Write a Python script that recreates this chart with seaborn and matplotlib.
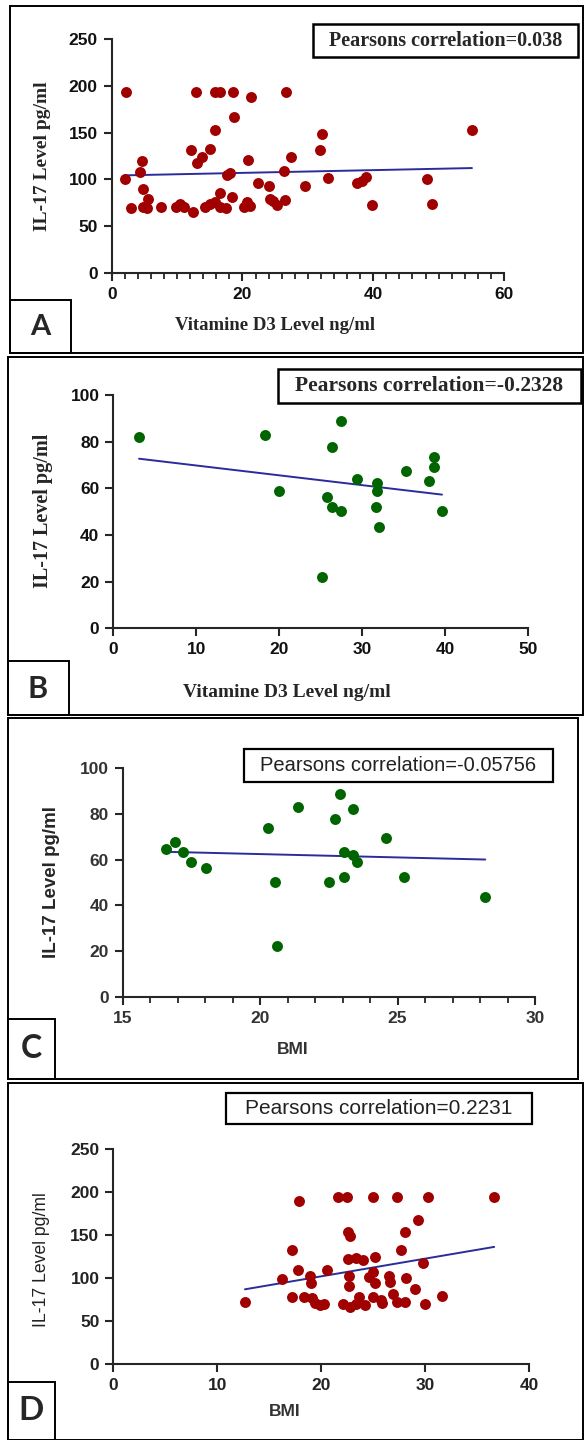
import matplotlib
matplotlib.use("Agg")
import matplotlib.pyplot as plt
from matplotlib.patches import Rectangle
from matplotlib.ticker import MultipleLocator
import seaborn as sns
import pandas as pd

W, H = 587, 1440

# panel A: vitamin D3 vs IL-17 (red group)
vitd_a = [2.2, 2.0, 2.9, 4.6, 4.4, 4.8, 5.6, 5.4, 4.8, 7.6,
          9.9, 10.5, 11.0, 12.4, 12.1, 12.9, 13.0, 13.8, 14.3, 15.0,
          15.0, 15.8, 15.8, 16.6, 15.8, 16.6, 16.6, 17.5, 17.6, 18.1,
          18.4, 18.5, 18.7, 20.2, 20.7, 21.2, 20.9, 21.3, 22.4, 24.0,
          24.2, 24.7, 25.3, 26.5, 26.4, 26.6, 27.4, 29.6, 31.9, 32.1,
          33.1, 37.5, 38.3, 38.9, 39.8, 48.2, 49.0, 55.1]
il17_a = [193.5, 100, 69, 120, 108, 90, 79, 69, 70, 70,
          70, 74, 70, 65, 131, 193.5, 118, 124, 70, 74,
          132, 153, 193.5, 193.5, 76, 85, 70, 69, 105, 107,
          81, 193.5, 167, 70, 76, 71, 121, 188.5, 96, 93,
          79, 77, 72, 78, 109, 193.5, 124, 93, 131, 148.5,
          101, 96, 98.5, 102, 72, 100, 74, 153]

# panel B: vitamin D3 vs IL-17 (green group)
vitd_b = [3.1, 18.3, 20.0, 27.4, 26.4, 25.8, 26.4, 27.4, 25.2, 29.4,
          31.8, 31.8, 31.7, 32.0, 35.3, 38.0, 38.6, 38.6, 39.6]
il17_b = [82.1, 83.0, 58.9, 88.7, 77.6, 56.1, 52.1, 50.3, 22.0, 64.0,
          62.1, 58.9, 52.1, 43.6, 67.6, 63.1, 73.6, 69.3, 50.3]

# panel C: BMI vs IL-17 (green group)
bmi_c = [16.58, 16.92, 17.21, 17.48, 18.02, 20.30, 20.54, 20.62, 21.38, 22.52,
         22.72, 22.91, 23.06, 23.06, 23.38, 23.38, 23.54, 24.59, 25.22, 28.19]
il17_c = [64.5, 67.6, 63.2, 58.8, 56.2, 73.7, 50.2, 22.0, 82.9, 50.2,
          77.7, 88.8, 63.5, 52.3, 82.0, 62.0, 58.8, 69.3, 52.3, 43.6]

# panel D: BMI vs IL-17 (red group)
bmi_d = [12.67, 16.2, 17.16, 17.16, 17.74, 17.9, 18.35, 18.9, 19.08, 19.0,
         19.4, 19.9, 20.3, 20.6, 21.65, 22.45, 22.1, 22.6, 22.8, 22.6,
         22.7, 22.7, 22.8, 23.4, 24.05, 23.6, 23.4, 24.2, 24.6, 25.0,
         25.2, 25.0, 25.2, 25.0, 25.9, 25.8, 26.5, 26.6, 27.3, 27.7,
         26.9, 27.3, 28.1, 28.1, 28.2, 29.0, 29.35, 29.8, 30.0, 30.3,
         31.65, 36.65]
il17_d = [71.6, 98.8, 132.6, 77.4, 109.3, 189.4, 77.4, 102.3, 76.2, 93.7,
          70.4, 68.4, 69.6, 109.3, 194.8, 194.8, 69.6, 154, 149.3, 121.7,
          102.3, 90.6, 66.5, 122.9, 121, 77.4, 69.6, 68.4, 101.5, 194.8,
          124, 107.3, 93.7, 78.1, 70.4, 74.3, 102.3, 95.6, 194.8, 132.6,
          81.3, 72.3, 72.3, 154, 100.3, 87.1, 167.6, 117.8, 70, 194.8,
          79.3, 194.8]

corr_labels = ["Pearsons correlation=0.038", "Pearsons correlation=-0.2328",
               "Pearsons correlation=-0.05756", "Pearsons correlation=0.2231"]

RED = "#a00000"
GREEN = "#006400"
LINE = "#2b2b9c"
SERIF = ["Liberation Serif", "DejaVu Serif"]
SANS = ["Liberation Sans", "DejaVu Sans"]
LETTER = ["Lato", "DejaVu Sans"]

sns.set_style("ticks")
plt.rcParams['font.family'] = SANS

fig = plt.figure(figsize=(W / 100, H / 100), dpi=100)


def rect(x0, y0, x1, y1):
    return [x0 / W, 1 - y1 / H, (x1 - x0) / W, (y1 - y0) / H]


def box(x0, y0, x1, y1, lw=1.4):
    fig.add_artist(Rectangle((x0 / W, 1 - y1 / H), (x1 - x0) / W, (y1 - y0) / H,
                             transform=fig.transFigure, fill=False, ec="black", lw=lw))


def ftext(x, y, s, **kw):
    fig.text(x / W, 1 - y / H, s, ha="center", va="center", **kw)


def panel(pos, x, y, color, xlim, ylim, xstep, ystep, xminor, tick_color):
    ax = fig.add_axes(rect(*pos))
    df = pd.DataFrame({"x": x, "y": y})
    sns.regplot(data=df, x="x", y="y", ax=ax, scatter=False, ci=None, truncate=True,
                line_kws=dict(color=LINE, lw=1.4, zorder=2))
    sns.scatterplot(data=df, x="x", y="y", ax=ax, color=color, s=62, linewidth=0,
                    clip_on=False, zorder=3)
    ax.set_xlim(xlim)
    ax.set_ylim(ylim)
    ax.xaxis.set_major_locator(MultipleLocator(xstep))
    ax.yaxis.set_major_locator(MultipleLocator(ystep))
    if xminor:
        ax.xaxis.set_minor_locator(MultipleLocator(xminor))
    ax.set_xlabel("")
    ax.set_ylabel("")
    sns.despine(ax=ax)
    for sp in ax.spines.values():
        sp.set_linewidth(1.5)
    ax.tick_params(which="major", length=6, width=1.5, labelsize=12.5,
                   labelcolor=tick_color, pad=4)
    ax.tick_params(which="minor", length=4, width=1.3)
    for lab in ax.get_xticklabels() + ax.get_yticklabels():
        lab.set_fontweight("bold")
    ax.patch.set_alpha(0)
    return ax


# outer panel frames and letter boxes
box(10, 6, 583, 353)
box(8, 357, 583, 715)
box(8, 718, 578, 1079)
box(8, 1083, 583, 1440)
box(10, 300, 71, 353)
box(8, 661, 69, 715)
box(8, 1019, 55, 1079)
box(8, 1382, 55, 1440)
for lx, ly, letter, fs in [(40, 327, "A", 21), (38, 689, "B", 22),
                           (31, 1049, "C", 23), (31, 1411, "D", 24)]:
    ftext(lx, ly, letter, fontsize=fs, fontweight="bold", family=LETTER)

# A
panel((111.7, 39.3, 504, 272.7), vitd_a, il17_a, RED, (0, 60), (0, 250), 20, 50, 2, "#111111")
ftext(43, 156, "IL-17 Level pg/ml", rotation=90, fontsize=14, fontweight="bold", family=SERIF)
ftext(275, 325, "Vitamine D3 Level ng/ml", fontsize=13.5, fontweight="bold", family=SERIF)
box(313, 24, 578, 57, lw=1.8)
ftext(445.5, 41, corr_labels[0], fontsize=14.5, fontweight="bold", family=SERIF)

# B
panel((113.3, 395, 528.3, 628.3), vitd_b, il17_b, GREEN, (0, 50), (0, 100), 10, 20, None, "#111111")
ftext(43, 511, "IL-17 Level pg/ml", rotation=90, fontsize=14.5, fontweight="bold", family=SERIF)
ftext(287, 693, "Vitamine D3 Level ng/ml", fontsize=14, fontweight="bold", family=SERIF)
box(278, 369, 581, 403, lw=1.8)
ftext(429.5, 386, corr_labels[1], fontsize=15.5, fontweight="bold", family=SERIF)

# C
panel((122.7, 768.3, 535, 996.7), bmi_c, il17_c, GREEN, (15, 30), (0, 100), 5, 20, 1, "#333333")
ftext(52, 882, "IL-17 Level pg/ml", rotation=90, fontsize=13.5, fontweight="bold", family=SANS)
ftext(293, 1050, "BMI", fontsize=12.5, fontweight="bold", family=SANS, color="#333333")
box(244, 749, 553, 782, lw=1.6)
ftext(398.5, 765.5, corr_labels[2], fontsize=14.5, family=SANS, color="#222222")

# D
panel((113.3, 1149.3, 529, 1363.7), bmi_d, il17_d, RED, (0, 40), (0, 250), 10, 50, None, "#222222")
ftext(42, 1260, "IL-17 Level pg/ml", rotation=90, fontsize=12.7, family=SANS, color="#222222")
ftext(285, 1412, "BMI", fontsize=12.5, fontweight="bold", family=SANS, color="#333333")
box(226, 1093, 532, 1124, lw=1.6)
ftext(379, 1108.5, corr_labels[3], fontsize=15, family=SANS, color="#222222")

fig.savefig("out.png", dpi=100)
